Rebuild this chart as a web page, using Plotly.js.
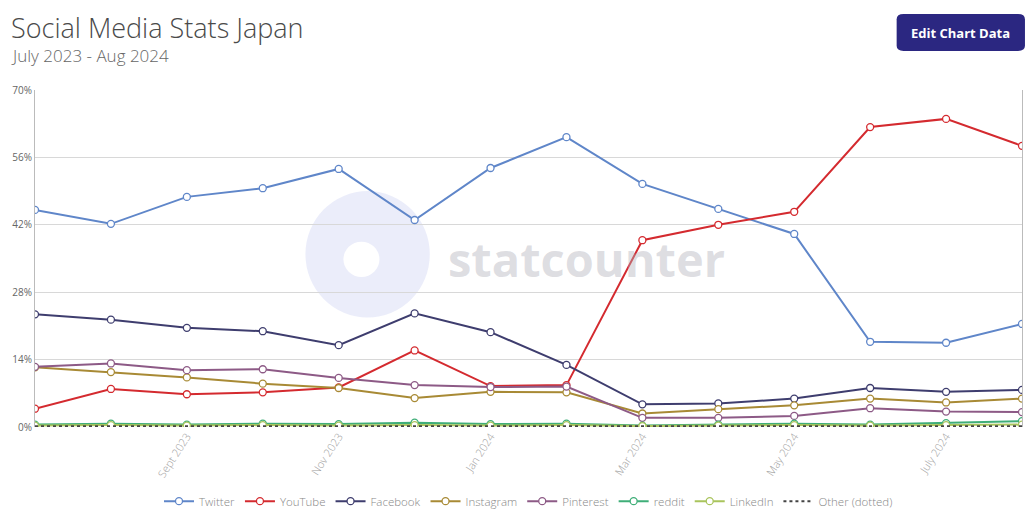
<!DOCTYPE html>
<html>
<head>
<meta charset="utf-8">
<script src="https://cdn.plot.ly/plotly-3.0.1.min.js"></script>
<style>
html,body{margin:0;padding:0;background:#fff;}
#chart{width:1036px;height:519px;}
</style>
</head>
<body>
<div id="chart"></div>
<script>
const months = ["July 2023","Aug 2023","Sept 2023","Oct 2023","Nov 2023","Dec 2023","Jan 2024","Feb 2024","Mar 2024","Apr 2024","May 2024","June 2024","July 2024","Aug 2024"];
const tickLabels = ["Sept 2023","Nov 2023","Jan 2024","Mar 2024","May 2024","July 2024"];
const yTicks = [0,14,28,42,56,70];

const twitter   = [45.1,42.2,47.8,49.6,53.6,43.0,53.8,60.2,50.5,45.3,40.1,17.7,17.5,21.4];
const youtube   = [3.8,7.9,6.8,7.2,8.2,15.9,8.5,8.7,38.8,42.0,44.7,62.3,64.0,58.4];
const facebook  = [23.4,22.3,20.6,19.9,17.0,23.6,19.7,12.9,4.7,4.9,5.9,8.1,7.3,7.7];
const instagram = [12.4,11.4,10.3,9.0,8.1,6.0,7.3,7.2,2.8,3.7,4.5,5.9,5.1,5.9];
const pinterest = [12.5,13.2,11.8,12.0,10.2,8.7,8.3,8.4,1.9,1.9,2.3,3.9,3.2,3.1];
const reddit    = [0.5,0.7,0.5,0.7,0.6,0.9,0.6,0.7,0.3,0.5,0.7,0.5,0.8,1.2];
const linkedin  = [0.3,0.4,0.3,0.4,0.3,0.4,0.3,0.4,0.2,0.3,0.4,0.3,0.4,0.5];
const other     = [0.15,0.15,0.15,0.15,0.15,0.15,0.15,0.15,0.15,0.15,0.15,0.15,0.15,0.15];

const seriesNames = ["Twitter","YouTube","Facebook","Instagram","Pinterest","reddit","LinkedIn"];
const seriesData = [twitter,youtube,facebook,instagram,pinterest,reddit,linkedin];
const colors = ["#5f86c9","#d42a2f","#3e3d6e","#a88a35","#8d5a86","#3fae78","#a9c45c"];

const xs = months.map((m,i)=>i);
const tickIdx = tickLabels.map(t=>months.indexOf(t));

const traces = seriesNames.map((n,k)=>({
  x: xs, y: seriesData[k], name: n, type:'scatter', mode:'lines+markers',
  line:{color:colors[k], width:2},
  marker:{symbol:'circle', size:7, color:'#fff', line:{color:colors[k], width:1.3}},
  hovertemplate: '%{y}%<extra>'+n+'</extra>'
}));
traces.push({
  x: xs, y: other, name:'Other (dotted)', type:'scatter', mode:'lines',
  line:{color:'#444', width:2, dash:'dot'}
});

const layout = {
  width:1036, height:519,
  margin:{l:35, r:14, t:90, b:92, autoexpand:false},
  paper_bgcolor:'#fff', plot_bgcolor:'#fff',
  font:{family:'"Open Sans", sans-serif', color:'#666'},
  showlegend:true,
  legend:{orientation:'h', x:0.5, xanchor:'center', y:-0.22, yanchor:'middle',
          font:{size:11.5, color:'#888', weight:300}, tracegroupgap:0, itemwidth:30},
  xaxis:{range:[0,13], tickmode:'array', tickvals:tickIdx, ticktext:tickLabels,
         tickangle:-57, tickfont:{size:11, color:'#a0a0a0', weight:300}, showgrid:false,
         zeroline:false, showline:false, ticks:'', fixedrange:true, automargin:false},
  yaxis:{range:[0,70], tickmode:'array', tickvals:yTicks, ticktext:yTicks.map(v=>v+'%'),
         tickfont:{size:10, color:'#666'}, showgrid:true, gridcolor:'#d8d8d8', gridwidth:1,
         zeroline:false, showline:true, linecolor:'#bbb', linewidth:1, mirror:true,
         ticks:'', ticklen:0, fixedrange:true, automargin:false},
  shapes:[
    {type:'circle', xref:'paper', yref:'paper', x0:0.274, x1:0.400, y0:0.325, y1:0.70,
     fillcolor:'rgba(210,214,245,0.45)', line:{width:0}, layer:'below'},
    {type:'circle', xref:'paper', yref:'paper', x0:0.3125, x1:0.349, y0:0.445, y1:0.55,
     fillcolor:'#fff', line:{width:0}, layer:'below'},
    {type:'path', xref:'paper', yref:'paper', layer:'above',
     path:'M 0.880,1.2255 L 0.996,1.2255 Q 1.003,1.2255 1.003,1.21 L 1.003,1.131 Q 1.003,1.1157 0.996,1.1157 L 0.880,1.1157 Q 0.873,1.1157 0.873,1.131 L 0.873,1.21 Q 0.873,1.2255 0.880,1.2255 Z',
     fillcolor:'#2b2781', line:{width:0}}
  ],
  annotations:[
    {text:'Social Media Stats Japan', xref:'paper', yref:'paper', x:-0.0265, y:1.184,
     xanchor:'left', yanchor:'middle', showarrow:false,
     font:{size:27, color:'#4a4a4a', weight:300, family:'"Open Sans", sans-serif'}},
    {text:'July 2023 - Aug 2024', xref:'paper', yref:'paper', x:-0.0265, y:1.101,
     xanchor:'left', yanchor:'middle', showarrow:false,
     font:{size:17, color:'#666', weight:300, family:'"Open Sans", sans-serif'}},
    {text:'<b>Edit Chart Data</b>', xref:'paper', yref:'paper', x:0.938, y:1.1706,
     xanchor:'center', yanchor:'middle', showarrow:false,
     font:{size:13, color:'#fff', family:'"Open Sans", sans-serif'}},
    {text:'<b>statcounter</b>', xref:'paper', yref:'paper', x:0.559, y:0.5,
     xanchor:'center', yanchor:'middle', showarrow:false,
     font:{size:47, color:'rgba(175,175,185,0.42)', family:'"Open Sans", sans-serif'}}
  ]
};

Plotly.newPlot('chart', traces, layout, {displayModeBar:false, staticPlot:true});
</script>
</body>
</html>
